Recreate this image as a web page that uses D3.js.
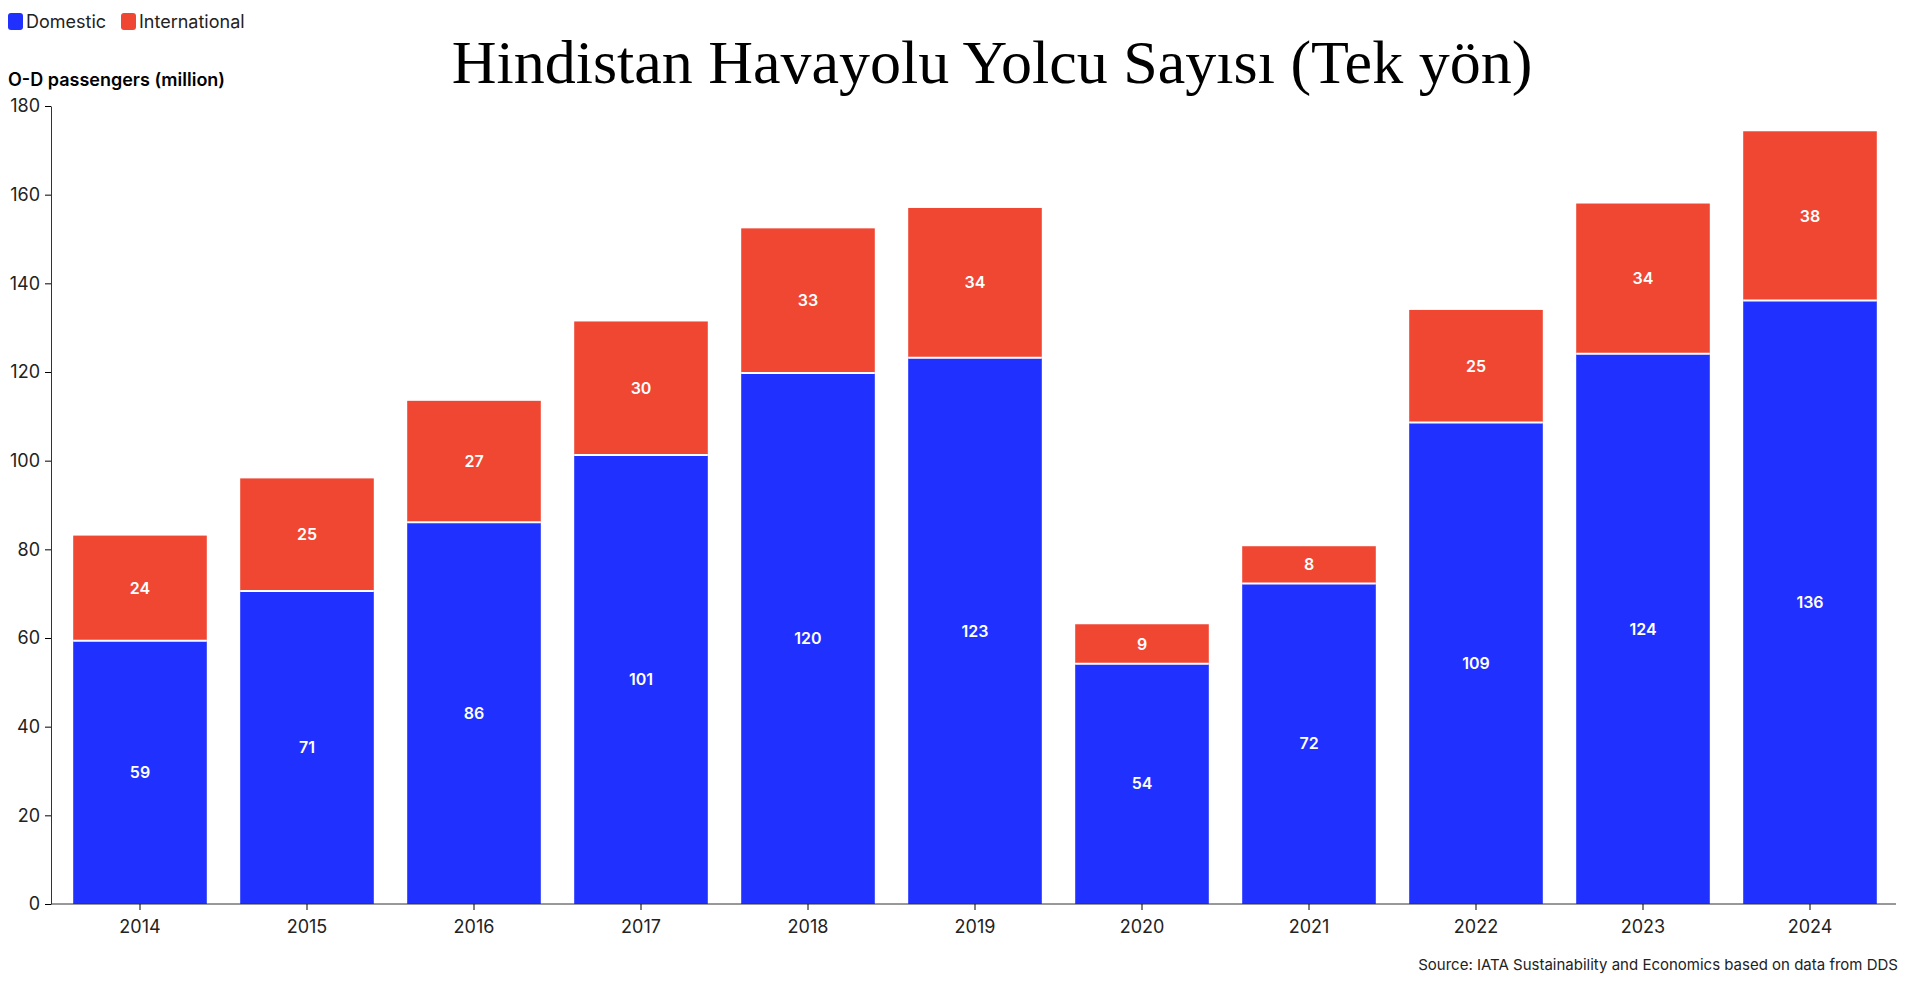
<!DOCTYPE html>
<html>
<head>
<meta charset="utf-8">
<script src="https://cdn.jsdelivr.net/npm/d3@7"></script>
<style>
  body { margin: 0; background: #fff; }
  text { font-family: Inter, "Noto Sans", sans-serif; }
</style>
</head>
<body>
<svg id="chart" width="1908" height="987"></svg>
<script>
const years = ["2014","2015","2016","2017","2018","2019","2020","2021","2022","2023","2024"];
const domestic = [59.4, 70.6, 86.1, 101.3, 119.8, 123.2, 54.2, 72.3, 108.6, 124.1, 136.1];
const international = [23.7, 25.4, 27.4, 30.1, 32.6, 33.8, 8.9, 8.4, 25.4, 33.9, 38.2];
const yTicks = [0, 20, 40, 60, 80, 100, 120, 140, 160, 180];
const colors = { Domestic: "#1f30ff", International: "#f04733" };

const svg = d3.select("#chart");
const margin = { top: 106, right: 12, bottom: 83, left: 51 };
const width = 1908, height = 987;

const x = d3.scaleBand().domain(years).range([56.5, 1893.5]).paddingInner(0.2).paddingOuter(0.1);
const y = d3.scaleLinear().domain([0, 180]).range([height - margin.bottom, margin.top]);

// title
svg.append("text")
  .attr("x", 992).attr("y", 83)
  .attr("text-anchor", "middle")
  .style("font-family", "'Liberation Serif', 'DejaVu Serif', serif")
  .style("font-size", "62px")
  .text("Hindistan Havayolu Yolcu Sayısı (Tek yön)");

// legend
const legend = [["Domestic", 8], ["International", 121]];
legend.forEach(([k, lx]) => {
  svg.append("rect").attr("x", lx).attr("y", 13).attr("width", 15).attr("height", 17)
    .attr("rx", 3).attr("fill", colors[k]);
  svg.append("text").attr("x", lx + 18).attr("y", 28).style("font-size", "18px")
    .attr("fill", "#222").text(k);
});

svg.append("text").attr("x", 8).attr("y", 86)
  .style("font-size", "18px").style("font-weight", "600").text("O-D passengers (million)");

// y axis
const yAxis = svg.append("g")
  .attr("transform", `translate(${margin.left},0)`)
  .call(d3.axisLeft(y).tickValues(yTicks).tickSize(6).tickSizeOuter(0));
yAxis.selectAll("text").style("font-size", "18px").attr("fill", "#222").attr("dx", "-2");
yAxis.select(".domain").attr("stroke", "#333");

// bars
const g = svg.append("g");
years.forEach((yr, i) => {
  const d = domestic[i], t = d + international[i];
  g.append("rect").attr("x", x(yr)).attr("width", x.bandwidth())
    .attr("y", y(d)).attr("height", y(0) - y(d)).attr("fill", colors.Domestic);
  g.append("rect").attr("x", x(yr)).attr("width", x.bandwidth())
    .attr("y", y(t)).attr("height", y(d) - y(t)).attr("fill", colors.International);
  g.append("line").attr("x1", x(yr)).attr("x2", x(yr) + x.bandwidth())
    .attr("y1", y(d)).attr("y2", y(d)).attr("stroke", "#fff").attr("stroke-width", 2);
  g.append("text").attr("x", x(yr) + x.bandwidth() / 2).attr("y", y(d / 2))
    .attr("text-anchor", "middle").attr("dy", "0.35em")
    .attr("fill", "#fff").style("font-size", "16px").style("font-weight", "600")
    .text(Math.round(d));
  g.append("text").attr("x", x(yr) + x.bandwidth() / 2).attr("y", y(d + international[i] / 2))
    .attr("text-anchor", "middle").attr("dy", "0.35em")
    .attr("fill", "#fff").style("font-size", "16px").style("font-weight", "600")
    .text(Math.round(international[i]));
});

// x axis
const xAxis = svg.append("g")
  .attr("transform", `translate(0,${y(0)})`)
  .call(d3.axisBottom(x).tickSize(6).tickSizeOuter(0));
xAxis.select(".domain").attr("d", `M${margin.left},0H${width - margin.right}`).attr("stroke", "#333");
xAxis.selectAll("text").style("font-size", "18px").attr("fill", "#222").attr("dy", "1.1em");

svg.append("text").attr("x", 1898).attr("y", 970).attr("text-anchor", "end")
  .style("font-size", "15px").attr("fill", "#222")
  .text("Source: IATA Sustainability and Economics based on data from DDS");
</script>
</body>
</html>
